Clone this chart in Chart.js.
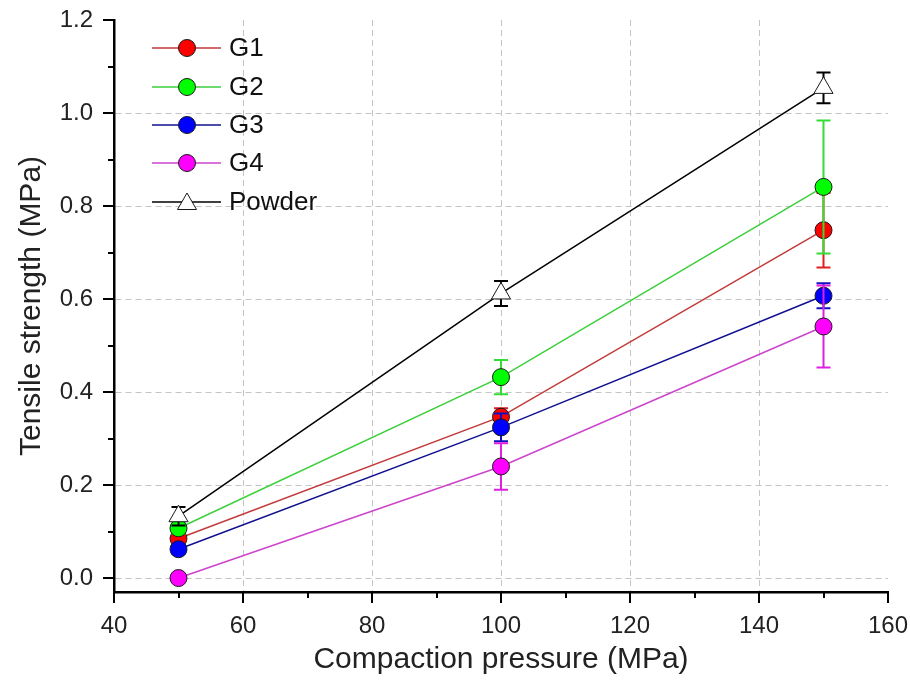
<!DOCTYPE html>
<html>
<head>
<meta charset="utf-8">
<script src="https://cdn.jsdelivr.net/npm/chart.js@4/dist/chart.umd.min.js"></script>
<style>
html,body{margin:0;padding:0;background:#fff;}
#wrap{width:910px;height:688px;}
</style>
</head>
<body>
<div id="wrap"><canvas id="c" width="910" height="688"></canvas></div>
<script>
// ---- data ----
const pressures = [50, 100, 150];
const seriesNames = ['G1', 'G2', 'G3', 'G4', 'Powder'];
const g1 = [0.085, 0.347, 0.748];
const g2 = [0.107, 0.432, 0.841];
const g3 = [0.062, 0.324, 0.607];
const g4 = [0.000, 0.240, 0.541];
const powder = [0.133, 0.612, 1.054];
const errG1 = [0.012, 0.018, 0.080];
const errG2 = [0.012, 0.037, 0.143];
const errG3 = [0.010, 0.030, 0.027];
const errG4 = [0.000, 0.050, 0.088];
const errPowder = [0.020, 0.027, 0.033];
const xTickValues = [40, 60, 80, 100, 120, 140, 160];
const yTickValues = [0.0, 0.2, 0.4, 0.6, 0.8, 1.0, 1.2];

const FONT = "'Liberation Sans', Arial, sans-serif";

const styles = [
  {line: '#c23a3a', fill: '#ff0000', err: '#e02020', shape: 'circle'},
  {line: '#3ccf3c', fill: '#00ff00', err: '#33dd33', shape: 'circle'},
  {line: '#101090', fill: '#0000ff', err: '#1010c0', shape: 'circle'},
  {line: '#cc44cc', fill: '#ff00ff', err: '#e020e0', shape: 'circle'},
  {line: '#000000', fill: '#ffffff', err: '#000000', shape: 'triangle'}
];
const values = [g1, g2, g3, g4, powder];
const errors = [errG1, errG2, errG3, errG4, errPowder];

const datasets = values.map((vals, i) => ({
  label: seriesNames[i],
  data: pressures.map((p, j) => ({x: p, y: vals[j]})),
  errors: errors[i],
  borderColor: styles[i].line,
  borderWidth: 1.5,
  backgroundColor: styles[i].fill,
  pointBackgroundColor: styles[i].fill,
  pointBorderColor: '#1a1a1a',
  pointBorderWidth: 1,
  pointStyle: styles[i].shape,
  pointRadius: styles[i].shape === 'triangle' ? 11 : 8.5,
  showLine: true,
  tension: 0,
  clip: false,
  order: 5 - i,
  errColor: styles[i].err
}));

function drawMarker(ctx, shape, x, y, r, fill) {
  ctx.save();
  ctx.fillStyle = fill;
  ctx.strokeStyle = '#1a1a1a';
  ctx.lineWidth = 1;
  ctx.beginPath();
  if (shape === 'triangle') {
    ctx.moveTo(x, y - r);
    ctx.lineTo(x + r * Math.sin(Math.PI / 3), y + r * 0.5);
    ctx.lineTo(x - r * Math.sin(Math.PI / 3), y + r * 0.5);
    ctx.closePath();
  } else {
    ctx.arc(x, y, r, 0, Math.PI * 2);
  }
  ctx.fill();
  ctx.stroke();
  ctx.restore();
}

const errorBarPlugin = {
  id: 'errorBars',
  beforeDatasetDraw(chart, args) {
    const ds = chart.data.datasets[args.index];
    const xs = chart.scales.x, ys = chart.scales.y;
    const ctx = chart.ctx;
    ctx.save();
    ctx.strokeStyle = ds.errColor;
    ctx.lineWidth = 2;
    ds.data.forEach((pt, j) => {
      const e = ds.errors[j];
      if (!e) return;
      const px = xs.getPixelForValue(pt.x);
      const top = ys.getPixelForValue(pt.y + e);
      const bot = ys.getPixelForValue(pt.y - e);
      const cw = 7;
      ctx.beginPath();
      ctx.moveTo(px, top); ctx.lineTo(px, bot);
      ctx.moveTo(px - cw, top); ctx.lineTo(px + cw, top);
      ctx.moveTo(px - cw, bot); ctx.lineTo(px + cw, bot);
      ctx.stroke();
    });
    ctx.restore();
  }
};

const ticksPlugin = {
  id: 'customTicks',
  afterDraw(chart) {
    const ctx = chart.ctx;
    const xs = chart.scales.x, ys = chart.scales.y;
    const area = chart.chartArea;
    ctx.save();
    ctx.strokeStyle = '#000';
    ctx.lineWidth = 2;
    ctx.beginPath();
    for (let v = 40; v <= 160; v += 10) {
      const px = Math.round(xs.getPixelForValue(v));
      const len = (v % 20 === 0) ? 11 : 6;
      ctx.moveTo(px, area.bottom); ctx.lineTo(px, area.bottom + len);
    }
    for (let k = 0; k <= 12; k++) {
      const py = Math.round(ys.getPixelForValue(k / 10));
      const len = (k % 2 === 0) ? 11 : 6;
      ctx.moveTo(area.left, py); ctx.lineTo(area.left - len, py);
    }
    ctx.stroke();

    // legend
    const rows = [48, 87, 125, 163, 202];
    ctx.font = '26px ' + FONT;
    ctx.textBaseline = 'middle';
    ctx.textAlign = 'left';
    chart.data.datasets.forEach((ds, i) => {
      const y = rows[i];
      ctx.strokeStyle = ds.borderColor;
      ctx.lineWidth = 1.5;
      ctx.beginPath();
      ctx.moveTo(152, y); ctx.lineTo(221, y);
      ctx.stroke();
      drawMarker(ctx, ds.pointStyle, 187, ds.pointStyle === 'triangle' ? y + 2 : y,
                 ds.pointStyle === 'triangle' ? 11 : 8.5, ds.pointBackgroundColor);
      ctx.fillStyle = '#111';
      ctx.fillText(ds.label, 229, y + 1);
    });
    ctx.restore();
  }
};

new Chart(document.getElementById('c'), {
  type: 'scatter',
  data: {datasets},
  plugins: [errorBarPlugin, ticksPlugin],
  options: {
    responsive: false,
    animation: false,
    devicePixelRatio: 1,
    layout: {padding: {top: 20, right: 22, left: 0, bottom: 0}},
    plugins: {legend: {display: false}, tooltip: {enabled: false}},
    scales: {
      x: {
        type: 'linear',
        min: 40, max: 160,
        afterBuildTicks(scale) {
          scale.ticks = xTickValues.map(v => ({value: v}));
        },
        afterFit(scale) {
          scale.height = 96;
          scale.paddingLeft = 0; scale.paddingRight = 0;
        },
        ticks: {
          color: '#222',
          font: {family: FONT, size: 24},
          padding: 20,
          maxRotation: 0,
          callback: v => String(v)
        },
        grid: {
          drawTicks: false,
          color: ctx => (ctx.tick && ctx.tick.value > 40 && ctx.tick.value < 160) ? '#c4c4c4' : 'rgba(0,0,0,0)',
          lineWidth: 1
        },
        border: {display: true, color: '#000', width: 2.5, dash: [6, 4]},
        title: {
          display: true,
          text: 'Compaction pressure (MPa)',
          color: '#222',
          font: {family: FONT, size: 30},
          padding: {top: 0, bottom: 10}
        }
      },
      y: {
        type: 'linear',
        min: -0.03, max: 1.2,
        afterBuildTicks(scale) {
          scale.ticks = yTickValues.map(v => ({value: v}));
        },
        afterFit(scale) {
          scale.width = 114;
          scale.paddingTop = 0; scale.paddingBottom = 0;
        },
        ticks: {
          color: '#222',
          font: {family: FONT, size: 24},
          padding: 21,
          callback: v => Number(v).toFixed(1)
        },
        grid: {
          drawTicks: false,
          color: ctx => (ctx.tick && ctx.tick.value < 1.19) ? '#c4c4c4' : 'rgba(0,0,0,0)',
          lineWidth: 1
        },
        border: {display: true, color: '#000', width: 2.5, dash: [6, 4]},
        title: {
          display: true,
          text: 'Tensile strength (MPa)',
          color: '#222',
          font: {family: FONT, size: 30},
          padding: {top: 14, bottom: 0}
        }
      }
    }
  }
});
</script>
</body>
</html>
